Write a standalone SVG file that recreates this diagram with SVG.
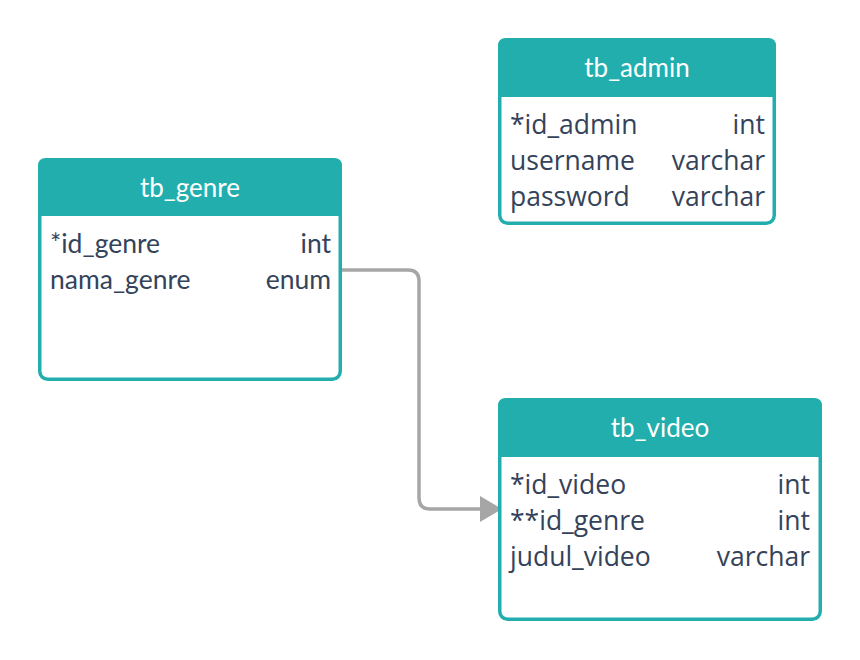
<svg xmlns="http://www.w3.org/2000/svg" width="860" height="660" viewBox="0 0 860 660">
<style>
.box{fill:#ffffff;stroke:#22AEAD;stroke-width:3.5}
.hdr{fill:#22AEAD}
.title{font-family:Lato,"Noto Sans",sans-serif;font-size:26px;fill:#ffffff;text-anchor:middle}
.row{font-family:Lato,"Noto Sans",sans-serif;font-size:26.5px;fill:#34435A}
.os{font-family:"Open Sans","Noto Sans",sans-serif;font-size:26.5px}
.r{text-anchor:end}
.conn{fill:none;stroke:#A6A6A6;stroke-width:3.5}
</style>
<defs>
<marker id="arr" viewBox="0 0 22 26" refX="21" refY="13" markerWidth="22" markerHeight="26" markerUnits="userSpaceOnUse" orient="auto">
<path d="M0,0 L22,13 L0,26 Z" fill="#A6A6A6"/>
</marker>
</defs>
<rect width="860" height="660" fill="#ffffff"/>
<g id="connectors">
<path class="conn" d="M342,270 H408 Q419,270 419,281 V498 Q419,509 430,509 H501" marker-end="url(#arr)"/>
</g>
<g id="tb_genre">
<rect class="box" x="39.75" y="159.75" width="300.5" height="219.5" rx="8"/>
<path class="hdr" d="M38,216 V166 Q38,158 46,158 H334 Q342,158 342,166 V216 Z"/>
<text class="title" x="190" y="197">tb_genre</text>
<text class="row" x="50" y="253">*id_genre</text>
<text class="row r" x="331" y="253">int</text>
<text class="row" x="50" y="289">nama_genre</text>
<text class="row r" x="331" y="289">enum</text>
</g>
<g id="tb_admin">
<rect class="box" x="499.75" y="39.75" width="274.5" height="183.5" rx="8"/>
<path class="hdr" d="M498,97 V46 Q498,38 506,38 H768 Q776,38 776,46 V97 Z"/>
<text class="title" x="637" y="77">tb_admin</text>
<text class="row os" x="510" y="134">*id_admin</text>
<text class="row os r" x="765" y="134">int</text>
<text class="row os" x="510" y="170">username</text>
<text class="row os r" x="765" y="170">varchar</text>
<text class="row os" x="510" y="206">password</text>
<text class="row os r" x="765" y="206">varchar</text>
</g>
<g id="tb_video">
<rect class="box" x="499.75" y="399.75" width="320.5" height="219.5" rx="8"/>
<path class="hdr" d="M498,457 V406 Q498,398 506,398 H814 Q822,398 822,406 V457 Z"/>
<text class="title" x="660" y="437">tb_video</text>
<text class="row os" x="510" y="494">*id_video</text>
<text class="row os r" x="810" y="494">int</text>
<text class="row os" x="510" y="530">**id_genre</text>
<text class="row os r" x="810" y="530">int</text>
<text class="row os" x="510" y="566">judul_video</text>
<text class="row os r" x="810" y="566">varchar</text>
</g>
</svg>
